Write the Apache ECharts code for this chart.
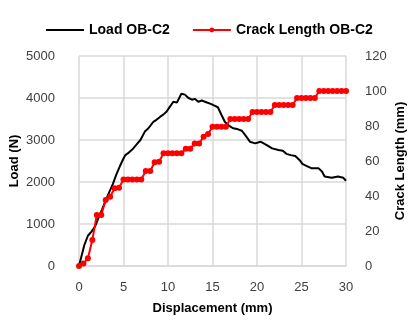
<!DOCTYPE html>
<html>
<head>
<meta charset="utf-8">
<script src="https://cdn.jsdelivr.net/npm/echarts@6/dist/echarts.min.js"></script>
<style>
  html, body { margin: 0; padding: 0; background: #fff; }
  #chart { width: 413px; height: 325px; }
</style>
</head>
<body>
<div id="chart"></div>
<script>
// Load vs displacement (mm, N)
const loadDisp = [0, 0.3, 0.6, 1.0, 1.4, 1.8, 2.2, 2.6, 3.0, 3.4, 3.8, 4.2, 4.6, 5.0, 5.2, 5.6,
  6.1, 6.5, 6.9, 7.4, 7.8, 8.35, 8.7, 9.1, 9.5, 9.85, 10.2, 10.6, 11.0, 11.5, 11.9, 12.3,
  12.7, 13.0, 13.4, 13.8, 14.3, 14.8, 15.1, 15.6, 16.0, 16.4, 16.8, 17.3, 17.8, 18.3, 18.7,
  19.2, 19.8, 20.4, 21.1, 21.7, 22.4, 22.9, 23.3, 23.8, 24.3, 24.8, 25.1, 25.6, 26.1, 26.9,
  27.3, 27.6, 28.4, 29.1, 29.7, 30.0];
const loadN = [0, 250, 500, 720, 820, 940, 1150, 1350, 1560, 1760, 1950, 2180, 2380, 2560, 2640, 2700,
  2800, 2900, 3000, 3200, 3280, 3430, 3480, 3550, 3610, 3680, 3790, 3910, 3890, 4100, 4080, 4000,
  3960, 3980, 3910, 3940, 3900, 3860, 3830, 3780, 3600, 3430, 3350, 3280, 3260, 3220, 3110,
  2960, 2920, 2960, 2880, 2800, 2760, 2745, 2670, 2640, 2620, 2520, 2430, 2380, 2330, 2330,
  2250, 2130, 2100, 2130, 2100, 2030];

// Crack length vs displacement (mm, mm), readings every 0.5 mm
const crackDisp = [0, 0.5, 1, 1.5, 2, 2.5, 3, 3.5, 4, 4.5, 5, 5.5, 6, 6.5, 7, 7.5, 8, 8.5, 9, 9.5,
  10, 10.5, 11, 11.5, 12, 12.5, 13, 13.5, 14, 14.5, 15, 15.5, 16, 16.5, 17, 17.5, 18, 18.5, 19, 19.5,
  20, 20.5, 21, 21.5, 22, 22.5, 23, 23.5, 24, 24.5, 25, 25.5, 26, 26.5, 27, 27.5, 28, 28.5, 29, 29.5, 30];
const crackMm = [0, 1.5, 4.4, 14.9, 29.1, 29.1, 37.7, 39.6, 44.4, 44.7, 49.5, 49.5, 49.5, 49.5, 49.5,
  54.3, 54.3, 59.3, 59.6, 64.5, 64.5, 64.5, 64.5, 64.5, 67, 67, 70, 70, 73.9, 75.4,
  79.6, 79.6, 79.6, 79.6, 84, 84, 84, 84, 84, 88, 88, 88, 88, 88,
  92, 92, 92, 92, 92, 96, 96, 96, 96, 96, 100, 100, 100, 100, 100, 100, 100];

const xTicks = { min: 0, max: 30, interval: 5 };
const loadTicks = { min: 0, max: 5000, interval: 1000 };
const crackTicks = { min: 0, max: 120, interval: 20 };

const seriesNames = ['Load OB-C2', 'Crack Length OB-C2'];

const font = '"Liberation Sans", Arial, sans-serif';
const tickStyle = { color: '#404040', fontSize: 13, fontFamily: font };
const titleStyle = { color: '#000', fontSize: 13, fontWeight: 'bold', fontFamily: font };
const gridLine = { lineStyle: { color: '#d9d9d9', width: 1.5 } };
const plain = v => String(v);

const chart = echarts.init(document.getElementById('chart'), null, { renderer: 'canvas' });
chart.setOption({
  animation: false,
  backgroundColor: '#fff',
  grid: { left: 79, right: 67, top: 56, bottom: 59, containLabel: false, outerBoundsMode: 'none' },
  legend: {
    top: 18, left: 40,
    itemWidth: 38, itemHeight: 6, itemGap: 22,
    textStyle: { color: '#000', fontSize: 14, fontWeight: 'bold', fontFamily: font },
    data: [
      { name: seriesNames[0], itemStyle: { opacity: 0 } },
      { name: seriesNames[1] }
    ]
  },
  xAxis: {
    type: 'value', ...xTicks,
    name: 'Displacement (mm)', nameLocation: 'middle', nameGap: 36, nameTextStyle: titleStyle,
    axisLine: { show: true, lineStyle: { color: '#d9d9d9', width: 1.5 } },
    axisTick: { show: false },
    axisLabel: { ...tickStyle, margin: 15, formatter: plain },
    splitLine: { show: true, ...gridLine }
  },
  yAxis: [
    {
      type: 'value', ...loadTicks,
      name: 'Load (N)', nameLocation: 'middle', nameGap: 58, nameMoveOverlap: false,
      nameTextStyle: titleStyle,
      axisLine: { show: false }, axisTick: { show: false },
      axisLabel: { ...tickStyle, margin: 24, formatter: plain },
      splitLine: { show: true, ...gridLine }
    },
    {
      type: 'value', ...crackTicks,
      name: 'Crack Length (mm)', nameLocation: 'middle', nameGap: 48, nameRotate: 90,
      nameMoveOverlap: false,
      nameTextStyle: titleStyle,
      axisLine: { show: false }, axisTick: { show: false },
      axisLabel: { ...tickStyle, margin: 19, formatter: plain },
      splitLine: { show: false }
    }
  ],
  series: [
    {
      name: seriesNames[0], type: 'line', yAxisIndex: 0,
      data: loadDisp.map((d, i) => [d, loadN[i]]),
      showSymbol: false, symbol: 'none',
      lineStyle: { color: '#000', width: 2 }, itemStyle: { color: '#000' }
    },
    {
      name: seriesNames[1], type: 'line', yAxisIndex: 1,
      data: crackDisp.map((d, i) => [d, crackMm[i]]),
      symbol: 'circle', symbolSize: 6,
      lineStyle: { color: '#ff0000', width: 2 }, itemStyle: { color: '#ff0000' }
    }
  ]
});
</script>
</body>
</html>
